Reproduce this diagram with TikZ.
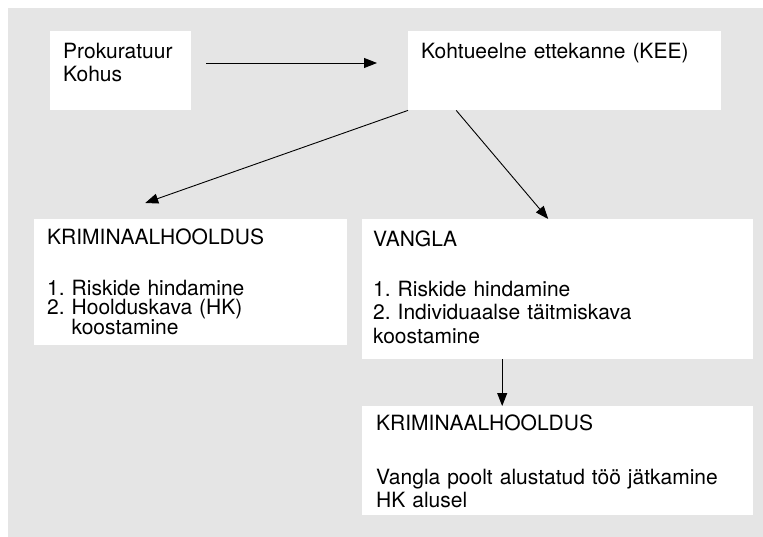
\documentclass[tikz,border=0pt]{standalone}
\usepackage{fontspec}
\setmainfont{TeX Gyre Heros}
\usetikzlibrary{arrows.meta,positioning}
\definecolor{bggrey}{RGB}{229,229,229}
\tikzset{
    box/.style={
    rectangle,fill=white,anchor=north west,align=left,
    inner xsep=13pt,inner ysep=0pt,font=\fontsize{21}{23.5}\selectfont\frenchspacing
    },
    flow/.style={
    -{Triangle[length=13pt,width=10pt]},line width=0.9pt
    },
}

\begin{document}
\begin{tikzpicture}[x=1pt,y=-1pt]
   \useasboundingbox (0,0) rectangle (763,537);
   \fill[bggrey] (8,8) rectangle (763,537);
   \node[box,text width=115pt,text height=27pt,text depth=52pt] (pk) at (50,31) {Prokuratuur\\Kohus};
   \node[box,text width=287pt,text height=27pt,text depth=52pt] (kee) at (408,31) {Kohtueelne ettekanne (KEE)};
   \node[box,text width=287pt,text height=25pt,text depth=101pt,font=\fontsize{21}{19}\selectfont\frenchspacing] (kh1) at (34,219)
     {KRIMINAALHOOLDUS\\[32pt]1. Riskide hindamine\\2. Hoolduskava (HK)\\\phantom{2.\ }koostamine};
   \node[box,text width=369pt,text height=27pt,text depth=113pt,inner xsep=11pt] (v) at (362,219)
     {VANGLA\\[26.5pt]1. Riskide hindamine\\2. Individuaalse täitmiskava\\koostamine};
   \node[box,text width=363pt,text height=24pt,text depth=85pt,inner xsep=14pt,font=\fontsize{21}{23}\selectfont\frenchspacing] (kh2) at (362,406)
     {KRIMINAALHOOLDUS\\[31pt]Vangla poolt alustatud töö jätkamine\\HK alusel};

   \draw[flow,shorten <=15pt,shorten >=31pt] (pk.east |- 0,63) -- (kee.west |- 0,63);
   \draw[flow] (kee.south west) -- ([xshift=-45.5pt,yshift=16pt]kh1.north);
   \draw[flow] ([xshift=-108.5pt]kee.south) -- ([xshift=-9.5pt]v.north);
   \draw[flow] ([xshift=-55.5pt]v.south) -- ([xshift=-55.5pt]kh2.north);
\end{tikzpicture}
\end{document}
